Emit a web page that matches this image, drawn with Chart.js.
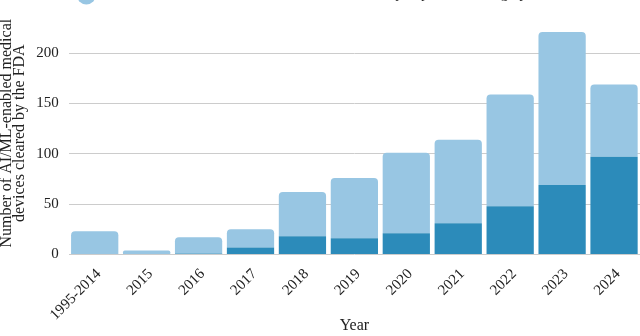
<!DOCTYPE html>
<html>
<head>
<meta charset="utf-8">
<script src="https://cdn.jsdelivr.net/npm/chart.js@4.4.1/dist/chart.umd.min.js"></script>
<style>
  html, body { margin: 0; padding: 0; background: #fff; overflow: hidden; }
  #wrap { width: 640px; height: 382px; margin-top: -48px; }
</style>
</head>
<body>
<div id="wrap"><canvas id="barChart" width="640" height="382"></canvas></div>
<script>
const years = ['1995-2014', '2015', '2016', '2017', '2018', '2019', '2020', '2021', '2022', '2023', '2024'];
const totalDevices = [23, 4, 17, 25, 62, 76, 101, 114, 159, 221, 169];
const darkDevices = [0, 0, 1, 7, 18, 16, 21, 31, 48, 69, 97];
const lightDevices = totalDevices.map((t, i) => t - darkDevices[i]);
const yTicks = [0, 50, 100, 150, 200];

const font = 'Liberation Serif';

const ctx = document.getElementById('barChart').getContext('2d');
new Chart(ctx, {
    type: 'bar',
    data: {
        labels: years,
        datasets: [{
            label: 'Devices cleared with a published prospective evaluation of clinical performance',
            data: darkDevices,
            backgroundColor: '#2c8bba',
            borderRadius: 0,
        }, {
            label: 'AI/ML-enabled medical devices cleared without prospective testing by FDA',
            data: lightDevices,
            backgroundColor: '#98c6e3',
            borderRadius: { topLeft: 4, topRight: 4 },
            borderSkipped: 'bottom',
        }]
    },
    options: {
        responsive: false,
        animation: false,
        datasets: {
            bar: { categoryPercentage: 1, barPercentage: 0.91 }
        },
        plugins: {
            legend: {
                position: 'top',
                labels: {
                    usePointStyle: true,
                    pointStyle: 'circle',
                    boxWidth: 14,
                    boxHeight: 14,
                    color: '#222',
                    font: { family: font, size: 15 }
                }
            },
            tooltip: { enabled: false }
        },
        scales: {
            x: {
                stacked: true,
                grid: { display: false },
                border: { display: false },
                ticks: {
                    color: '#222',
                    font: { family: font, size: 15, lineHeight: 1.0 },
                    maxRotation: 45,
                    minRotation: 45,
                    padding: 4,
                    labelOffset: 4
                },
                title: {
                    display: true,
                    text: 'Year',
                    color: '#222',
                    font: { family: font, size: 16, lineHeight: 1.0 },
                    padding: { top: -9, bottom: 0 }
                }
            },
            y: {
                stacked: true,
                min: 0,
                max: 241,
                afterBuildTicks: (axis) => {
                    axis.ticks = yTicks.map(v => ({ value: v }));
                },
                grid: { color: '#cccccc', drawTicks: false },
                border: { display: false },
                ticks: {
                    color: '#222',
                    font: { family: font, size: 15 },
                    padding: 10
                },
                title: {
                    display: true,
                    text: ['Number of AI/ML-enabled medical', 'devices cleared by the FDA'],
                    color: '#222',
                    font: { family: font, size: 16, lineHeight: 0.82 },
                    padding: { top: 0, bottom: 0 }
                }
            }
        }
    }
});
</script>
</body>
</html>
